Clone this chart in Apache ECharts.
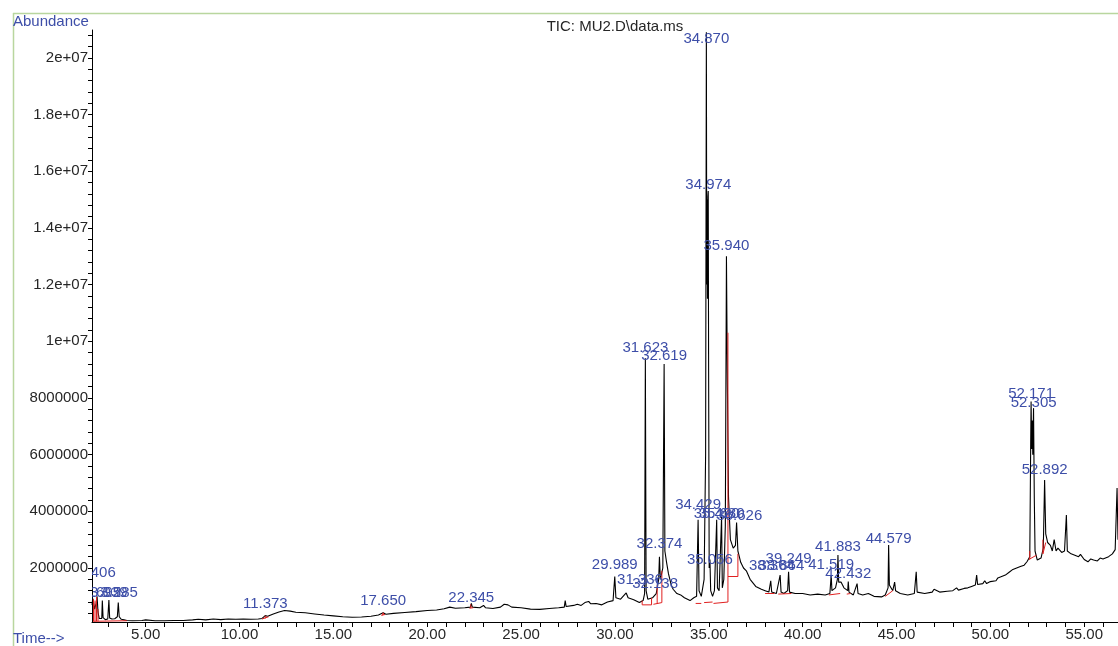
<!DOCTYPE html>
<html>
<head>
<meta charset="utf-8">
<script src="https://cdn.jsdelivr.net/npm/echarts@6/dist/echarts.min.js"></script>
<style>
html,body{margin:0;padding:0;background:#fff;}
#chart{width:1118px;height:646px;}
</style>
</head>
<body>
<div id="chart"></div>
<script>
// ---- data (abundance in millions, time in minutes) ----
const ticTrace = [
[2.14,0.70],[2.18,0.92],[2.22,0.80],[2.28,0.55],[2.36,0.75],[2.41,1.00],[2.46,0.45],[2.52,0.22],[2.60,0.19],[2.66,0.22],[2.69,0.85],[2.73,0.25],[2.85,0.18],[2.98,0.20],[3.04,0.87],[3.08,0.24],[3.20,0.20],[3.35,0.21],[3.49,0.28],[3.54,0.78],[3.59,0.28],[3.70,0.19],[3.85,0.17],[4.00,0.15],
[4.30,0.14],[4.80,0.15],[5.00,0.17],[5.50,0.14],[6.00,0.14],[6.50,0.15],[7.00,0.15],[7.50,0.17],[7.80,0.19],[8.20,0.17],[8.60,0.20],[9.00,0.18],[9.40,0.20],[9.80,0.19],[10.20,0.20],[10.60,0.19],[11.00,0.20],[11.20,0.22],[11.37,0.32],[11.50,0.30],[11.80,0.38],[12.10,0.45],[12.40,0.50],[12.70,0.48],[13.00,0.44],[13.50,0.42],[14.00,0.38],[14.50,0.34],[15.00,0.31],[15.50,0.28],[16.00,0.26],[16.50,0.27],[17.00,0.30],[17.40,0.34],[17.65,0.42],[17.80,0.37],[18.20,0.40],[18.80,0.43],[19.40,0.46],[20.00,0.50],[20.50,0.52],[20.90,0.56],[21.00,0.60],[21.20,0.62],[21.50,0.58],[22.00,0.60],[22.30,0.62],[22.35,0.75],[22.40,0.62],[22.80,0.60],[23.00,0.68],[23.10,0.60],[23.50,0.57],[23.90,0.62],[24.10,0.72],[24.30,0.70],[24.50,0.62],[25.00,0.60],[25.50,0.55],[26.00,0.54],[26.50,0.57],[27.00,0.60],[27.30,0.62],[27.35,0.85],[27.40,0.64],[27.80,0.68],[28.00,0.72],[28.20,0.68],[28.40,0.78],[28.50,0.74],[28.60,0.82],[28.70,0.74],[29.00,0.75],[29.30,0.70],[29.60,0.80],[29.90,0.85],[29.99,1.70],[30.05,0.95],[30.30,0.90],[30.60,1.12],[30.70,0.95],[31.00,0.88],[31.30,0.78],[31.50,0.85],[31.58,1.10],[31.62,9.40],[31.66,1.20],[31.75,0.90],[32.00,0.95],[32.20,1.10],[32.33,1.60],[32.37,2.40],[32.42,1.60],[32.55,2.00],[32.62,9.20],[32.66,2.60],[32.75,2.20],[32.85,1.80],[33.00,1.40],[33.10,1.25],[33.30,1.10],[33.50,1.05],[33.70,0.95],[34.00,0.85],[34.20,0.95],[34.35,1.00],[34.43,3.70],[34.48,1.20],[34.60,1.00],[34.75,1.60],[34.83,6.00],[34.85,13.50],[34.87,20.90],[34.89,12.00],[34.91,15.00],[34.93,11.50],[34.95,15.10],[34.97,15.30],[34.99,9.00],[35.02,2.00],[35.06,2.30],[35.10,1.20],[35.20,1.00],[35.30,1.20],[35.42,3.70],[35.46,1.30],[35.55,1.20],[35.68,3.80],[35.72,1.30],[35.80,1.60],[35.88,3.50],[35.94,13.00],[35.99,8.50],[36.05,4.50],[36.15,3.00],[36.30,2.70],[36.42,2.80],[36.48,3.60],[36.55,2.60],[36.70,2.20],[36.85,2.00],[37.00,1.90],[37.20,1.60],[37.50,1.35],[37.80,1.25],[38.00,1.20],[38.20,1.15],[38.30,1.55],[38.35,1.15],[38.60,1.10],[38.80,1.75],[38.85,1.15],[39.00,1.10],[39.20,1.20],[39.25,1.87],[39.30,1.15],[39.60,1.10],[40.00,1.10],[40.40,1.05],[40.80,1.08],[41.20,1.05],[41.45,1.10],[41.52,1.75],[41.56,1.20],[41.75,1.30],[41.85,1.60],[41.88,2.46],[41.92,1.50],[42.05,1.50],[42.20,1.30],[42.40,1.20],[42.43,1.52],[42.47,1.15],[42.70,1.05],[42.90,1.45],[42.95,1.10],[43.20,1.05],[43.50,1.10],[43.80,1.00],[44.20,0.98],[44.40,1.05],[44.55,1.30],[44.58,2.81],[44.62,1.40],[44.80,1.20],[44.90,1.50],[44.95,1.20],[45.20,1.10],[45.60,1.05],[45.95,1.10],[46.05,1.87],[46.10,1.15],[46.50,1.10],[46.90,1.15],[47.00,1.25],[47.10,1.32],[47.30,1.15],[47.70,1.18],[48.00,1.20],[48.20,1.30],[48.30,1.22],[48.60,1.28],[48.80,1.30],[49.00,1.35],[49.20,1.40],[49.27,1.75],[49.32,1.42],[49.60,1.45],[49.70,1.55],[49.80,1.45],[50.00,1.52],[50.30,1.55],[50.40,1.65],[50.50,1.58],[50.80,1.75],[50.90,1.68],[51.00,1.85],[51.10,1.80],[51.20,1.95],[51.30,1.88],[51.40,2.00],[51.60,2.05],[51.70,2.12],[51.80,2.10],[51.95,2.22],[52.10,2.40],[52.15,6.50],[52.17,7.87],[52.20,6.20],[52.23,7.20],[52.26,6.00],[52.30,7.64],[52.34,4.50],[52.38,2.60],[52.50,2.28],[52.70,2.35],[52.82,2.70],[52.89,5.10],[52.95,3.20],[53.05,2.90],[53.20,2.80],[53.30,2.60],[53.40,3.00],[53.50,2.60],[53.60,2.70],[53.80,2.55],[53.95,2.60],[54.05,3.87],[54.10,2.60],[54.30,2.50],[54.40,2.55],[54.50,2.45],[54.70,2.40],[54.80,2.48],[55.00,2.30],[55.20,2.22],[55.35,2.32],[55.50,2.28],[55.70,2.25],[55.85,2.35],[56.00,2.32],[56.30,2.40],[56.50,2.50],[56.65,2.65],[56.75,4.82],[56.80,3.00]
];

// integration baselines (red), segments separated by gaps
const integrationMarks = [
[2.20,0.12],[4.00,0.14],'-',
[2.22,0.12],[2.22,0.90],'-',
[2.30,0.12],[2.30,0.85],'-',
[2.38,0.12],[2.38,0.98],'-',
[2.46,0.12],[2.46,0.55],'-',
[11.20,0.20],[11.55,0.28],'-',
[11.37,0.22],[11.37,0.32],'-',
[17.55,0.33],[17.75,0.36],'-',
[17.62,0.33],[17.65,0.42],[17.70,0.35],'-',
[22.25,0.58],[22.45,0.60],'-',
[22.32,0.59],[22.32,0.72],'-',
[31.45,0.70],[31.95,0.70],'-',
[31.45,0.70],[31.45,0.85],'-',
[31.95,0.70],[31.95,0.95],'-',
[32.05,0.72],[32.50,0.78],'-',
[32.25,0.75],[32.25,1.40],'-',
[32.50,0.78],[32.50,1.90],'-',
[34.30,0.75],[34.60,0.75],'-',
[34.75,0.78],[35.20,0.80],'-',
[35.25,0.75],[36.02,0.80],'-',
[36.02,0.80],[36.02,10.30],'-',
[36.02,1.70],[36.55,1.70],'-',
[36.55,1.70],[36.55,2.50],'-',
[38.00,1.10],[38.50,1.10],'-',
[38.70,1.08],[39.40,1.10],'-',
[41.40,1.05],[42.00,1.10],'-',
[42.35,1.08],[42.55,1.10],'-',
[44.40,1.00],[44.80,1.20],'-',
[52.05,2.30],[52.45,2.45],'-',
[52.10,2.30],[52.10,2.60],'-',
[52.80,2.50],[52.95,2.90],'-',
[52.80,2.50],[52.80,3.00]
];

// peak annotations: retention time and label anchor (millions)
const peakTimes  = [2.406,2.692,3.039,3.585,11.373,17.650,22.345,29.989,31.336,32.138,31.623,32.619,32.374,34.429,34.870,34.974,35.940,35.420,35.680,36.626,35.056,38.364,38.864,39.249,41.519,41.883,42.432,44.579,52.171,52.305,52.892];
const labelLevel = [1.82,1.12,1.12,1.12,0.73,0.84,0.94,2.10,1.58,1.43,9.75,9.50,2.85,4.22,20.65,15.50,13.36,3.91,3.91,3.84,2.28,2.07,2.07,2.32,2.10,2.74,1.79,3.02,8.14,7.82,5.46];

const xTickValues = [3,4,5,6,7,8,9,10,11,12,13,14,15,16,17,18,19,20,21,22,23,24,25,26,27,28,29,30,31,32,33,34,35,36,37,38,39,40,41,42,43,44,45,46,47,48,49,50,51,52,53,54,55,56];
const xLabelValues = [5,10,15,20,25,30,35,40,45,50,55];
const yLabelValues = [2,4,6,8,10,12,14,16,18,20];
const yTickValues = [0.4,0.8,1.2,1.6,2.0,2.4,2.8,3.2,3.6,4.0,4.4,4.8,5.2,5.6,6.0,6.4,6.8,7.2,7.6,8.0,8.4,8.8,9.2,9.6,10.0,10.4,10.8,11.2,11.6,12.0,12.4,12.8,13.2,13.6,14.0,14.4,14.8,15.2,15.6,16.0,16.4,16.8,17.2,17.6,18.0,18.4,18.8,19.2,19.6,20.0,20.4,20.8];

const M = 1e6;
const traceData = ticTrace.map(p => [p[0], p[1]*M]);
const markData = integrationMarks.map(p => p === '-' ? ['-','-'] : [p[0], p[1]*M]);
const labelData = peakTimes.map((t,i) => [t, labelLevel[i]*M]);

const FONT = '"Liberation Sans", Arial, sans-serif';
const BLUE = '#3d4ea8';
const TXT = '#262626';

const chart = echarts.init(document.getElementById('chart'), null, {renderer:'canvas'});
chart.setOption({
  animation:false,
  backgroundColor:'#ffffff',
  textStyle:{fontFamily:FONT},
  title:{
    text:'TIC: MU2.D\\data.ms',
    left:610, top:14, textAlign:'center',
    textStyle:{fontFamily:FONT, fontSize:15, fontWeight:'normal', color:TXT}
  },
  grid:{left:92, right:0, top:30, bottom:24, containLabel:false},
  xAxis:{
    type:'value', min:2.14, max:56.8,
    axisLine:{show:true, onZero:false, lineStyle:{color:'#000', width:1}},
    axisTick:{show:true, length:5, customValues:xTickValues, lineStyle:{color:'#000'}},
    axisLabel:{customValues:xLabelValues, formatter:v=>v.toFixed(2), color:TXT, fontSize:15, fontFamily:FONT, margin:5},
    splitLine:{show:false}
  },
  yAxis:{
    type:'value', min:0.095*M, max:20.98*M,
    axisLine:{show:true, lineStyle:{color:'#000', width:1}},
    axisTick:{show:true, length:4, customValues:yTickValues.map(v=>v*M), lineStyle:{color:'#000'}},
    axisLabel:{customValues:yLabelValues.map(v=>v*M), color:TXT, fontSize:15, fontFamily:FONT, margin:4,
      formatter:v=> v>=1e7 ? (+(v/1e7).toFixed(1))+'e+07' : String(Math.round(v))},
    splitLine:{show:false}
  },
  graphic:[
    {type:'line', shape:{x1:13,y1:13.5,x2:1118,y2:13.5}, style:{stroke:'#b9d69e', lineWidth:1.5}, silent:true},
    {type:'line', shape:{x1:13.5,y1:13,x2:13.5,y2:646}, style:{stroke:'#b9d69e', lineWidth:1.5}, silent:true},
    {type:'text', left:13, top:14, style:{text:'Abundance', fill:BLUE, font:'15px '+FONT}, silent:true},
    {type:'text', left:13, top:631, style:{text:'Time-->', fill:BLUE, font:'15px '+FONT}, silent:true}
  ],
  series:[
    {
      name:'TIC', type:'line', data:traceData, showSymbol:false, symbol:'none',
      lineStyle:{color:'#000', width:1.1}, clip:true, z:2
    },
    {
      name:'integration', type:'line', data:markData, showSymbol:false, symbol:'none',
      connectNulls:false, lineStyle:{color:'#e02020', width:1}, clip:true, z:3
    },
    {
      name:'labels', type:'custom', data:labelData, clip:true, z:4,
      renderItem:(params, api) => {
        const pt = api.coord([api.value(0), api.value(1)]);
        return {
          type:'text', x:pt[0], y:pt[1],
          style:{text:peakTimes[params.dataIndex].toFixed(3), fill:BLUE, font:'15px '+FONT,
                 align:'center', verticalAlign:'middle', textAlign:'center', textVerticalAlign:'middle'}
        };
      }
    }
  ]
});
</script>
</body>
</html>
